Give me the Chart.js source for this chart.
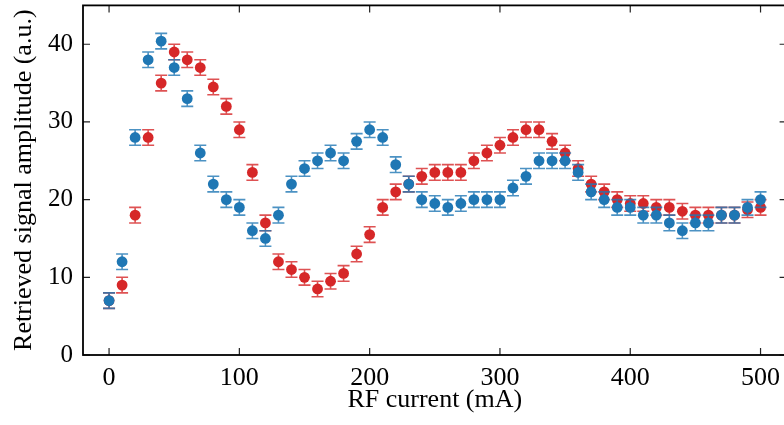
<!DOCTYPE html>
<html>
<head>
<meta charset="utf-8">
<script src="https://cdn.jsdelivr.net/npm/chart.js@4/dist/chart.umd.min.js"></script>
<style>
  html, body { margin: 0; padding: 0; background: #fff; overflow: hidden; }
  #wrap { position: absolute; left: 0; top: 0; }
</style>
</head>
<body>
<div id="wrap"><canvas id="chart" width="792" height="425"></canvas></div>
<script>
// RF current (mA) for each measurement
const current = [0, 10, 20, 30, 40, 50, 60, 70, 80, 90,
  100, 110, 120, 130, 140, 150, 160, 170, 180, 190,
  200, 210, 220, 230, 240, 250, 260, 270, 280, 290,
  300, 310, 320, 330, 340, 350, 360, 370, 380, 390,
  400, 410, 420, 430, 440, 450, 460, 470, 480, 490, 500];

// retrieved signal amplitude (a.u.), blue series
const blueAmp = [7, 12, 28, 38, 40.4, 37, 33, 26, 22, 20,
  19, 16, 15, 18, 22, 24, 25, 26, 25, 27.5,
  29, 28, 24.5, 22, 20, 19.5, 19, 19.5, 20, 20,
  20, 21.5, 23, 25, 25, 25, 23.5, 21, 20, 19,
  19, 18, 18, 17, 16, 17, 17, 18, 18, 19, 20];

// retrieved signal amplitude (a.u.), red series
const redAmp = [7, 9, 18, 28, 35, 39, 38, 37, 34.5, 32,
  29, 23.5, 17, 12, 11, 10, 8.5, 9.5, 10.5, 13,
  15.5, 19, 21, 22, 23, 23.5, 23.5, 23.5, 25, 26,
  27, 28, 29, 29, 27.5, 26, 24, 22, 21, 20,
  19.5, 19.5, 19, 19, 18.5, 18, 18, 18, 18, 18.7, 19];

// half-height of the error bars (a.u.)
const errSize = 1.0;

const xTicks = [0, 100, 200, 300, 400, 500];
const yTicks = [0, 10, 20, 30, 40];

const serif = 'Liberation Serif';

// error bars drawn just before each dataset's markers
const errorBars = {
  id: 'errorBars',
  beforeDatasetDraw(chart, args) {
    const ds = chart.data.datasets[args.index];
    const xs = chart.scales.x, ys = chart.scales.y;
    const ctx = chart.ctx;
    ctx.save();
    ctx.strokeStyle = ds.errColor;
    ctx.lineWidth = 1.6;
    ds.data.forEach(p => {
      const px = xs.getPixelForValue(p.x);
      const top = ys.getPixelForValue(p.y + errSize);
      const bot = ys.getPixelForValue(p.y - errSize);
      ctx.beginPath();
      ctx.moveTo(px, top); ctx.lineTo(px, bot);
      ctx.moveTo(px - 6, top); ctx.lineTo(px + 6, top);
      ctx.moveTo(px - 6, bot); ctx.lineTo(px + 6, bot);
      ctx.stroke();
    });
    ctx.restore();
  }
};

// box frame with inward ticks on all four sides
const frame = {
  id: 'frame',
  afterDraw(chart) {
    const {ctx, chartArea: a} = chart;
    const xs = chart.scales.x, ys = chart.scales.y;
    const len = 7;
    ctx.save();
    ctx.strokeStyle = '#222';
    ctx.lineWidth = 1.2;
    ctx.beginPath();
    xTicks.forEach(v => {
      const px = xs.getPixelForValue(v);
      ctx.moveTo(px, a.bottom); ctx.lineTo(px, a.bottom - len);
      ctx.moveTo(px, a.top); ctx.lineTo(px, a.top + len);
    });
    yTicks.forEach(v => {
      const py = ys.getPixelForValue(v);
      ctx.moveTo(a.left, py); ctx.lineTo(a.left + len, py);
      ctx.moveTo(a.right, py); ctx.lineTo(a.right - len, py);
    });
    ctx.stroke();
    ctx.strokeStyle = '#000';
    ctx.lineWidth = 1.8;
    ctx.strokeRect(a.left, a.top, a.right - a.left, a.bottom - a.top);
    ctx.restore();
  }
};

const toPoints = arr => current.map((c, i) => ({x: c, y: arr[i]}));

new Chart(document.getElementById('chart'), {
  type: 'scatter',
  data: {
    datasets: [
      {
        label: 'blue',
        data: toPoints(blueAmp),
        backgroundColor: '#1f77b4',
        errColor: 'rgba(31, 119, 180, 0.8)',
        pointRadius: 5.4,
        borderWidth: 0
      },
      {
        label: 'red',
        data: toPoints(redAmp),
        backgroundColor: '#d62728',
        errColor: 'rgba(214, 39, 40, 0.8)',
        pointRadius: 5.4,
        borderWidth: 0
      }
    ]
  },
  options: {
    responsive: false,
    animation: false,
    devicePixelRatio: 1,
    layout: { padding: { top: 1, right: 3, left: 0, bottom: 0 } },
    plugins: {
      legend: { display: false },
      tooltip: { enabled: false }
    },
    scales: {
      x: {
        type: 'linear',
        min: -20,
        max: 520,
        afterBuildTicks: s => { s.ticks = xTicks.map(v => ({value: v})); },
        afterFit: s => { s.height = 70; s.paddingLeft = 0; s.paddingRight = 0; },
        grid: { display: false, drawTicks: false },
        border: { display: false },
        ticks: {
          font: { family: serif, size: 26 },
          color: '#000',
          padding: 8,
          maxRotation: 0,
          autoSkip: false
        },
        title: {
          display: true,
          text: 'RF current (mA)',
          font: { family: serif, size: 26 },
          color: '#000',
          padding: { top: 0, bottom: 9 }
        }
      },
      y: {
        type: 'linear',
        min: 0,
        max: 45,
        afterBuildTicks: s => { s.ticks = yTicks.map(v => ({value: v})); },
        afterFit: s => { s.width = 83; s.paddingTop = 0; s.paddingBottom = 0; },
        grid: { display: false, drawTicks: false },
        border: { display: false },
        ticks: {
          font: { family: serif, size: 25 },
          color: '#000',
          padding: 10
        },
        title: {
          display: true,
          text: 'Retrieved signal amplitude (a.u.)',
          font: { family: serif, size: 26 },
          color: '#000',
          padding: { top: 9, bottom: 0 }
        }
      }
    }
  },
  plugins: [errorBars, frame]
});
</script>
</body>
</html>
